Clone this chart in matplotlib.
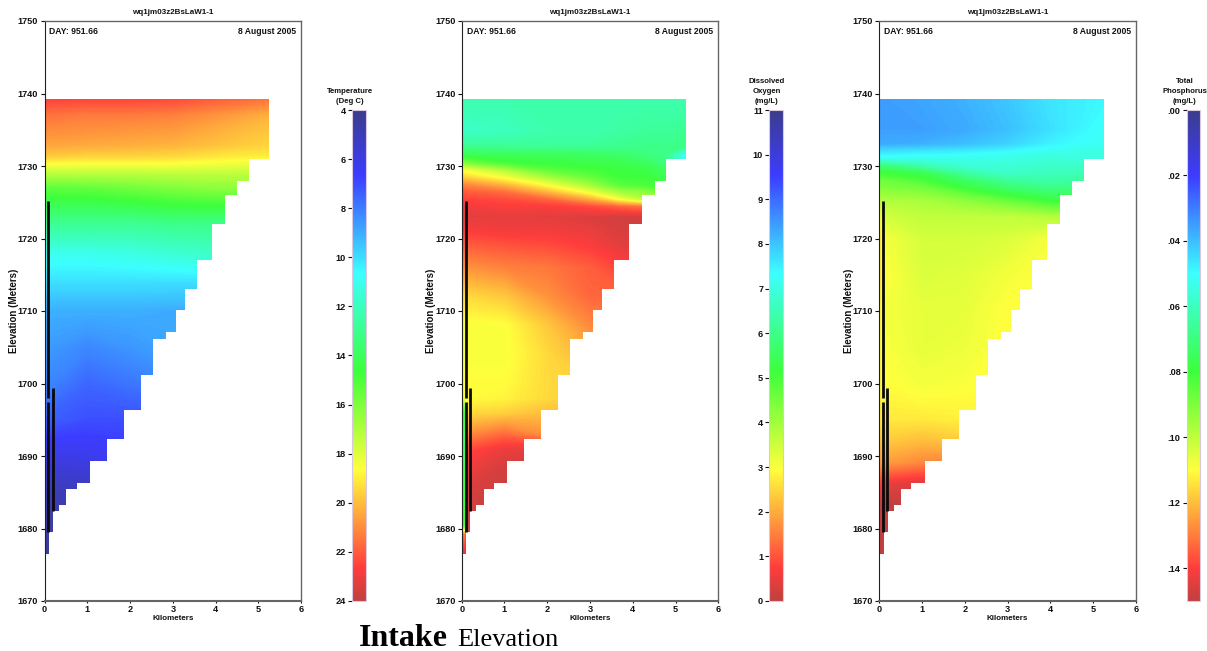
#!/usr/bin/env python
"""Three reservoir profile panels: temperature, dissolved oxygen, total phosphorus."""

import matplotlib

matplotlib.use("Agg")
import matplotlib.pyplot as plt  # noqa: E402
import numpy as np  # noqa: E402
from matplotlib.cm import ScalarMappable  # noqa: E402
from matplotlib.colors import LinearSegmentedColormap, Normalize  # noqa: E402
from matplotlib.patches import Polygon  # noqa: E402

W, H = 1207, 651
FONT = ["Liberation Sans", "DejaVu Sans"]
INK, FRAME = "#111111", "#666666"

# reservoir outline: right edge (km) of each layer and elevation of its floor
STEP_X = [5.245, 4.785, 4.51, 4.225, 3.91, 3.56, 3.29, 3.07, 2.845, 2.54, 2.26,
          1.86, 1.46, 1.07, 0.75, 0.51, 0.335, 0.195, 0.10]
STEP_Z = [1730.9, 1727.9, 1726.0, 1722.0, 1717.1, 1713.1, 1710.1, 1707.1, 1706.2,
          1701.2, 1696.3, 1692.3, 1689.3, 1686.3, 1685.4, 1683.3, 1682.4, 1679.5, 1676.5]
SURFACE = 1739.2

# intake structures: (x, top, bottom)
INTAKES = [(0.09, 1725.2, 1698.0), (0.09, 1697.5, 1679.5), (0.187, 1699.4, 1682.4)]

TEMP_X = [0, 1, 2, 3, 4, 5.3]
TEMP_Z = [1739.2, 1737, 1735, 1733, 1731.5, 1730.5, 1729, 1727, 1725, 1722, 1718,
          1714, 1710, 1705, 1700, 1695, 1690, 1685, 1680, 1676]
TEMP = [[22.5, 22.4, 22.4, 22.3, 21.9, 21.4],
        [21.5, 21.3, 21.3, 21.2, 20.8, 20.2],
        [21.0, 20.9, 20.8, 20.7, 20.3, 19.8],
        [20.5, 20.4, 20.3, 20.2, 19.9, 19.5],
        [19.8, 19.6, 19.6, 19.5, 19.2, 19.0],
        [18.8, 18.7, 18.7, 18.7, 18.5, 18.2],
        [17.2, 17.2, 17.2, 17.3, 17.3, 17.3],
        [15.3, 15.4, 15.7, 16.0, 16.3, 16.3],
        [14.3, 14.3, 14.5, 14.8, 14.9, 14.9],
        [12.8, 12.8, 12.8, 13.0, 13.0, 13.0],
        [11.0, 11.0, 11.2, 11.5, 11.8, 11.8],
        [10.0, 10.0, 10.0, 10.0, 10.0, 10.0],
        [9.0, 9.0, 9.0, 8.9, 8.9, 8.9],
        [8.6, 8.2, 8.5, 8.8, 8.8, 8.8],
        [8.2, 7.5, 7.8, 8.2, 8.2, 8.2],
        [7.4, 7.0, 7.0, 7.0, 7.0, 7.0],
        [6.0, 6.2, 6.5, 6.5, 6.5, 6.5],
        [5.0, 5.0, 5.0, 5.0, 5.0, 5.0],
        [4.6, 4.6, 4.6, 4.6, 4.6, 4.6],
        [4.2, 4.2, 4.2, 4.2, 4.2, 4.2]]

DO_X = [0, 0.06, 0.12, 1, 2, 3, 3.7, 4.3, 4.8, 5.3]
DO_Z = [1739.2, 1735, 1733, 1731.5, 1730.5, 1729.5, 1728.5, 1727.5, 1726.5, 1725.5,
        1724.5, 1723, 1721, 1719, 1716, 1712, 1708, 1704, 1700, 1698, 1696, 1693,
        1691, 1688, 1684, 1680.5, 1679.3, 1676]
DO = [[6.4, 6.4, 6.4, 6.4, 6.4, 6.4, 6.4, 6.4, 6.4, 6.4],
      [6.7, 6.7, 6.7, 6.6, 6.4, 6.4, 6.3, 6.2, 6.2, 6.1],
      [6.2, 6.2, 6.2, 6.2, 6.2, 6.2, 6.1, 6.0, 6.0, 5.9],
      [5.3, 5.3, 5.3, 5.4, 5.4, 5.5, 5.6, 5.8, 6.0, 7.4],
      [4.3, 4.3, 4.4, 5.0, 5.2, 5.3, 5.3, 5.5, 5.9, 7.5],
      [3.0, 3.0, 3.1, 3.8, 4.7, 5.0, 5.2, 5.3, 5.5, 5.6],
      [2.3, 2.4, 2.4, 3.0, 3.9, 4.6, 5.1, 5.1, 5.4, 5.4],
      [1.5, 1.6, 1.6, 2.1, 3.0, 4.0, 4.8, 5.0, 5.1, 5.2],
      [1.0, 1.0, 1.1, 1.3, 2.1, 3.1, 4.0, 4.2, 4.8, 4.8],
      [0.8, 0.8, 0.8, 0.9, 1.2, 2.0, 3.0, 3.8, 4.0, 4.0],
      [0.6, 0.6, 0.6, 0.7, 0.7, 0.9, 1.2, 1.4, 1.5, 1.5],
      [0.4, 0.4, 0.4, 0.45, 0.4, 0.3, 0.2, 0.2, 0.2, 0.2],
      [0.7, 0.7, 0.7, 0.6, 0.6, 0.5, 0.3, 0.2, 0.2, 0.2],
      [1.1, 1.1, 1.1, 1.0, 0.9, 0.7, 0.4, 0.3, 0.3, 0.3],
      [1.7, 1.7, 1.7, 1.5, 1.4, 1.1, 0.8, 0.8, 0.8, 0.8],
      [2.4, 2.5, 2.5, 2.3, 1.7, 1.2, 1.2, 1.2, 1.2, 1.2],
      [2.9, 3.0, 3.0, 2.95, 2.3, 1.6, 1.5, 1.5, 1.5, 1.5],
      [2.9, 3.0, 3.0, 3.0, 2.5, 2.0, 2.0, 2.0, 2.0, 2.0],
      [2.8, 2.9, 2.9, 2.9, 2.5, 2.4, 2.4, 2.4, 2.4, 2.4],
      [3.0, 3.0, 2.9, 2.8, 2.5, 2.4, 2.4, 2.4, 2.4, 2.4],
      [5.5, 5.0, 2.5, 2.4, 2.2, 2.0, 2.0, 2.0, 2.0, 2.0],
      [6.3, 5.5, 1.6, 1.2, 1.7, 1.8, 1.8, 1.8, 1.8, 1.8],
      [6.6, 5.5, 0.9, 0.5, 0.4, 0.7, 0.7, 0.7, 0.7, 0.7],
      [6.0, 5.3, 0.5, 0.2, 0.2, 0.3, 0.3, 0.3, 0.3, 0.3],
      [5.5, 5.2, 0.2, 0.1, 0.1, 0.2, 0.2, 0.2, 0.2, 0.2],
      [5.0, 5.0, 0.2, 0.1, 0.1, 0.2, 0.2, 0.2, 0.2, 0.2],
      [1.5, 1.5, 0.2, 0.1, 0.1, 0.2, 0.2, 0.2, 0.2, 0.2],
      [0.1, 0.1, 0.1, 0.1, 0.1, 0.2, 0.2, 0.2, 0.2, 0.2]]

TP_X = [0, 0.06, 0.12, 1, 2, 3, 4, 5.3]
TP_Z = [1739.2, 1735, 1733, 1732, 1731, 1730, 1729, 1728, 1727, 1726, 1725, 1723,
        1720, 1715, 1710, 1705, 1700, 1695, 1692, 1689, 1686, 1683, 1680, 1676]
TP = [[.035, .035, .035, .036, .038, .041, .046, .049],
      [.035, .035, .035, .035, .037, .040, .045, .051],
      [.037, .037, .037, .038, .040, .043, .048, .052],
      [.045, .045, .045, .046, .047, .049, .052, .054],
      [.052, .052, .052, .053, .053, .054, .056, .054],
      [.070, .070, .070, .062, .056, .056, .058, .059],
      [.080, .080, .080, .076, .064, .058, .060, .062],
      [.087, .087, .087, .082, .073, .065, .063, .066],
      [.091, .090, .090, .088, .079, .072, .068, .070],
      [.096, .094, .094, .093, .087, .079, .074, .076],
      [.102, .098, .098, .097, .093, .088, .081, .080],
      [.110, .104, .103, .100, .100, .100, .098, .096],
      [.115, .108, .108, .103, .103, .104, .108, .108],
      [.114, .110, .110, .104, .105, .108, .110, .110],
      [.113, .108, .108, .106, .106, .110, .110, .110],
      [.112, .109, .109, .106, .107, .110, .110, .110],
      [.112, .110, .110, .108, .109, .110, .110, .110],
      [.114, .113, .113, .113, .112, .112, .112, .112],
      [.120, .118, .118, .120, .118, .118, .118, .118],
      [.125, .125, .125, .128, .130, .130, .130, .130],
      [.135, .143, .143, .146, .146, .146, .146, .146],
      [.145, .150, .150, .150, .150, .150, .150, .150],
      [.147, .150, .150, .150, .150, .150, .150, .150],
      [.148, .150, .150, .150, .150, .150, .150, .150]]

TITLE = "wq1jm03z2BsLaW1-1"
DAY_TEXT = "DAY: 951.66"
DATE_TEXT = "8 August 2005"
XLABEL = "Kilometers"
YLABEL = "Elevation (Meters)"
X_TICKS = [0, 1, 2, 3, 4, 5, 6]
Y_TICKS = [1670, 1680, 1690, 1700, 1710, 1720, 1730, 1740, 1750]

TEMP_TICKS = [4, 6, 8, 10, 12, 14, 16, 18, 20, 22, 24]
DO_TICKS = [0, 1, 2, 3, 4, 5, 6, 7, 8, 9, 10, 11]
TP_TICKS = [0, .02, .04, .06, .08, .10, .12, .14]
TP_LABELS = [".00", ".02", ".04", ".06", ".08", ".10", ".12", ".14"]

cmap = LinearSegmentedColormap.from_list("wq", [
    (0.0, "#3c3c8c"), (0.133, "#3c3cff"), (0.333, "#3cffff"), (0.533, "#3cff3c"),
    (0.733, "#ffff3c"), (0.933, "#ff3c3c"), (1.0, "#c04040")], N=512)


def px_axes(fig, left, top, right, bottom):
    return fig.add_axes([left / W, 1 - bottom / H, (right - left) / W, (bottom - top) / H])


def label(fig, x, y, text, **kw):
    kw.setdefault("ha", "center")
    kw.setdefault("va", "center")
    fig.text(x / W, 1 - y / H, text, family=FONT, fontweight="bold", color=INK, **kw)


def panel(fig, left, xs, zs, values, vmin, vmax, colors, ticks, tick_labels, bar_title,
          bar_ylim):
    right = left + 256.7
    ax = px_axes(fig, left, 21, right, 601)
    norm = Normalize(vmin, vmax)

    # tables are written top-down, contourf wants ascending elevation
    cs = ax.contourf(xs, zs[::-1], np.array(values)[::-1], levels=np.linspace(vmin, vmax, 257),
                     cmap=colors, norm=norm, extend="both", antialiased=False)
    outline = [(0, SURFACE), (STEP_X[0], SURFACE)]
    for i, (x, z) in enumerate(zip(STEP_X, STEP_Z)):
        outline.append((x, z))
        next_x = STEP_X[i + 1] if i + 1 < len(STEP_X) else 0
        outline.append((next_x, z))
    clip = Polygon(outline, closed=True, transform=ax.transData, fc="none", ec="none")
    ax.add_patch(clip)
    cs.set_clip_path(clip)

    for x, top, bottom in INTAKES:
        ax.plot([x, x], [top, bottom], color="#0a0a0a", lw=2.0, solid_capstyle="butt", zorder=4)

    ax.set_xlim(0, 6)
    ax.set_ylim(1670, 1750)
    ax.set_xticks(X_TICKS)
    ax.set_yticks(Y_TICKS)
    ax.tick_params(axis="x", length=1.5, width=0.8, pad=1.5, labelsize=6.6, colors=INK)
    ax.tick_params(axis="y", length=3, width=0.8, pad=1.5, labelsize=6.6, colors=INK)
    for t in ax.get_xticklabels() + ax.get_yticklabels():
        t.set_family(FONT)
        t.set_fontweight("bold")
    ax.spines["left"].set(color="#222222", lw=0.8)
    ax.spines["top"].set(color=FRAME, lw=1.0)
    ax.spines["right"].set(color=FRAME, lw=1.0)
    ax.spines["bottom"].set(color=FRAME, lw=1.5)

    mid = (left + right) / 2
    label(fig, mid, 12, TITLE, fontsize=5.8)
    label(fig, left + 5, 32, DAY_TEXT, fontsize=6.2, ha="left")
    label(fig, right - 5, 32, DATE_TEXT, fontsize=6.2, ha="right")
    label(fig, mid, 619, XLABEL, fontsize=5.8)
    label(fig, left - 30.5, 311, YLABEL, fontsize=7, rotation=90)

    # colour bar on the panel's own scale
    bar_left = left + 307.7
    cax = px_axes(fig, bar_left, 110, bar_left + 13.4, 601)
    cb = fig.colorbar(ScalarMappable(norm=norm, cmap=colors), cax=cax)
    cax.set_ylim(*bar_ylim)
    cb.set_ticks(ticks, labels=tick_labels)
    cax.yaxis.set_ticks_position("left")
    cax.tick_params(length=3, width=0.8, pad=1.5, labelsize=6.6, colors=INK)
    for t in cax.get_yticklabels():
        t.set_family(FONT)
        t.set_fontweight("bold")
    cb.outline.set(edgecolor="#d8c8e0", lw=0.8)
    label(fig, bar_left - 2.5, 105, bar_title, fontsize=5.6, va="bottom", linespacing=1.6)


def main():
    fig = plt.figure(figsize=(W / 100, H / 100), dpi=100, facecolor="white")

    panel(fig, 44.5, TEMP_X, TEMP_Z, TEMP, 4, 24, cmap, TEMP_TICKS,
          [str(t) for t in TEMP_TICKS], "Temperature\n(Deg C)", (24, 4))
    # oxygen runs the other way: high values are the blue end
    panel(fig, 461.7, DO_X, DO_Z, DO, 0, 11, cmap.reversed(), DO_TICKS,
          [str(t) for t in DO_TICKS], "Dissolved\nOxygen\n(mg/L)", (0, 11))
    panel(fig, 879.3, TP_X, TP_Z, TP, 0, .15, cmap, TP_TICKS, TP_LABELS,
          "Total\nPhosphorus\n(mg/L)", (.15, 0))

    fig.text(359 / W, 1 - 646 / H, "Intake", family="Liberation Serif", fontweight="bold",
             fontsize=23, color="black", ha="left", va="baseline")
    fig.text(457 / W, 1 - 646 / H, "Elevation", family="Liberation Serif",
             fontsize=19, color="black", ha="left", va="baseline")

    fig.savefig("out.png", dpi=100, facecolor="white")


if __name__ == "__main__":
    main()
